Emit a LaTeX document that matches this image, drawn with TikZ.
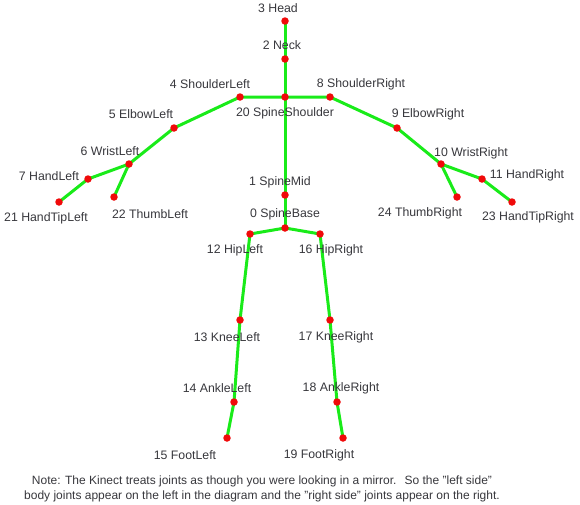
\documentclass[tikz,border=0pt]{standalone}
\usepackage{fontspec}
\setmainfont{Liberation Sans}
\usepackage{xcolor}
\usepackage{tikz}
\usetikzlibrary{positioning}
\definecolor{boneGreen}{RGB}{25,235,25}
\definecolor{jointRed}{RGB}{240,10,10}
\definecolor{labelGray}{RGB}{55,55,60}
\pgfdeclarelayer{bones}
\pgfsetlayers{bones,main}
\tikzset{
    joint/.style={circle, fill=jointRed, inner sep=0pt, minimum size=7.5pt},
    bone/.style={draw=boneGreen, line width=3pt},
    tag/.style={font=\fontsize{12.3}{14}\selectfont, text=labelGray, inner sep=0pt},
    note/.style={font=\fontsize{12}{14.5}\selectfont, text=labelGray, align=center, inner sep=0pt}
}
\begin{document}
\begin{tikzpicture}[x=1pt, y=-1pt]
        \useasboundingbox (0,0) rectangle (580,504);

        % Spine
        \node[joint] (Head) at (285,21) {};
        \node[joint] (Neck) at (285,59) {};
        \node[joint] (SpineShoulder) at (285,97) {};
        \node[joint] (SpineMid) at (285,195) {};
        \node[joint] (SpineBase) at (285,228) {};

        % Left arm
        \node[joint] (ShoulderLeft) at (240,97) {};
        \node[joint] (ElbowLeft) at (174,128) {};
        \node[joint] (WristLeft) at (129,164) {};
        \node[joint] (HandLeft) at (88,179) {};
        \node[joint] (HandTipLeft) at (59,202) {};
        \node[joint] (ThumbLeft) at (114,197) {};

        % Right arm
        \node[joint] (ShoulderRight) at (330,97) {};
        \node[joint] (ElbowRight) at (397,128) {};
        \node[joint] (WristRight) at (441,164) {};
        \node[joint] (HandRight) at (482,179) {};
        \node[joint] (HandTipRight) at (512,202) {};
        \node[joint] (ThumbRight) at (457,197) {};

        % Legs
        \node[joint] (HipLeft) at (250,234) {};
        \node[joint] (KneeLeft) at (240,320) {};
        \node[joint] (AnkleLeft) at (234,402) {};
        \node[joint] (FootLeft) at (227,438) {};
        \node[joint] (HipRight) at (320,234) {};
        \node[joint] (KneeRight) at (330,320) {};
        \node[joint] (AnkleRight) at (337,402) {};
        \node[joint] (FootRight) at (343,438) {};

        % Bones
        \begin{pgfonlayer}{bones}
        \draw[bone] (Head.center) -- (Neck.center) -- (SpineShoulder.center) -- (SpineMid.center) -- (SpineBase.center);
        \draw[bone] (SpineShoulder.center) -- (ShoulderLeft.center) -- (ElbowLeft.center) -- (WristLeft.center) -- (HandLeft.center) -- (HandTipLeft.center);
        \draw[bone] (WristLeft.center) -- (ThumbLeft.center);
        \draw[bone] (SpineShoulder.center) -- (ShoulderRight.center) -- (ElbowRight.center) -- (WristRight.center) -- (HandRight.center) -- (HandTipRight.center);
        \draw[bone] (WristRight.center) -- (ThumbRight.center);
        \draw[bone] (SpineBase.center) -- (HipLeft.center) -- (KneeLeft.center) -- (AnkleLeft.center) -- (FootLeft.center);
        \draw[bone] (SpineBase.center) -- (HipRight.center) -- (KneeRight.center) -- (AnkleRight.center) -- (FootRight.center);
        \end{pgfonlayer}

        % Labels
        \node[tag] (lHead) at (278,8) {3 Head};
        \node[tag] (lNeck) at (282,45) {2 Neck};
        \node[tag] (lShoulderLeft) at (210,84) {4 ShoulderLeft};
        \node[tag] (lShoulderRight) at (361,84) {8 ShoulderRight};
        \node[tag] (lSpineShoulder) at (285,113) {20 SpineShoulder};
        \node[tag] (lElbowLeft) at (141,114) {5 ElbowLeft};
        \node[tag] (lElbowRight) at (428,114) {9 ElbowRight};
        \node[tag] (lWristLeft) at (110,151) {6 WristLeft};
        \node[tag] (lHandLeft) at (49,176) {7 HandLeft};
        \node[tag] (lHandTipLeft) at (46,218) {21 HandTipLeft};
        \node[tag] (lThumbLeft) at (150,214) {22 ThumbLeft};
        \node[tag] (lWristRight) at (471,153) {10 WristRight};
        \node[tag] (lHandRight) at (527,175) {11 HandRight};
        \node[tag] (lThumbRight) at (420,213) {24 ThumbRight};
        \node[tag] (lHandTipRight) at (528,217) {23 HandTipRight};
        \node[tag] (lSpineMid) at (280,182) {1 SpineMid};
        \node[tag] (lSpineBase) at (285,214) {0 SpineBase};
        \node[tag] (lHipLeft) at (235,250) {12 HipLeft};
        \node[tag] (lHipRight) at (331,250) {16 HipRight};
        \node[tag] (lKneeLeft) at (227,337) {13 KneeLeft};
        \node[tag] (lKneeRight) at (336,337) {17 KneeRight};
        \node[tag] (lAnkleLeft) at (217,388) {14 AnkleLeft};
        \node[tag] (lAnkleRight) at (341,388) {18 AnkleRight};
        \node[tag] (lFootLeft) at (185,455) {15 FootLeft};
        \node[tag] (lFootRight) at (319,455) {19 FootRight};

        \node[note, anchor=north] (Note) at (262,476) {Note: The Kinect treats joints as though you were looking in a mirror.\hspace{0.3em} So the "left side"\\
            body joints appear on the left in the diagram and the "right side" joints appear on the right.};
    \end{tikzpicture}
\end{document}
